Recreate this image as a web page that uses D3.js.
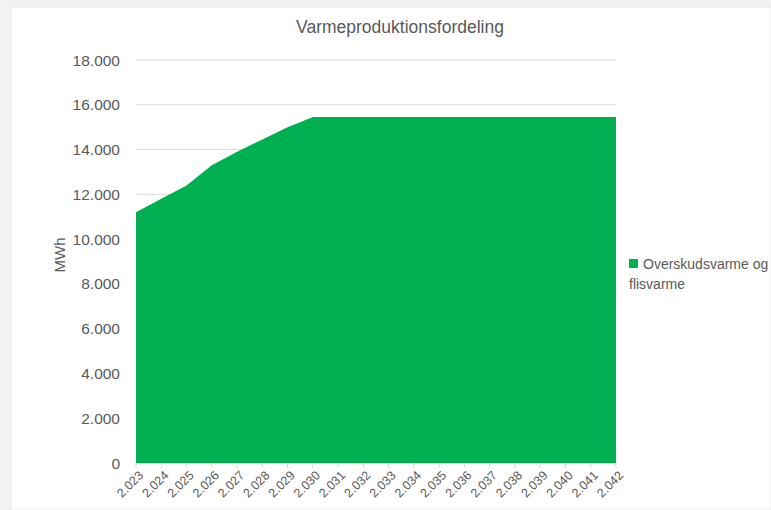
<!DOCTYPE html>
<html><head><meta charset="utf-8">
<script src="https://cdn.jsdelivr.net/npm/d3@7"></script>
<style>body{margin:0;background:#f3f2f1;}svg{display:block;}text{font-family:"Liberation Sans",Arial,sans-serif;fill:#595959;}</style>
</head><body>
<svg id="c" width="771" height="510"></svg>
<script>
const years = ["2.023","2.024","2.025","2.026","2.027","2.028","2.029","2.030","2.031","2.032","2.033","2.034","2.035","2.036","2.037","2.038","2.039","2.040","2.041","2.042"];
const values = [11200,11800,12400,13300,13900,14450,15000,15450,15450,15450,15450,15450,15450,15450,15450,15450,15450,15450,15450,15450];
const yTicks = [0,2000,4000,6000,8000,10000,12000,14000,16000,18000];
const seriesName = ["Overskudsvarme og","flisvarme"];
const title = "Varmeproduktionsfordeling";
const yTitle = "MWh";

const svg = d3.select("#c");
svg.append("rect").attr("x",11).attr("y",7).attr("width",760).attr("height",503).attr("fill","#fff").attr("stroke","#e6e6e6");

const x = d3.scalePoint().domain(years).range([136,616]);
const y = d3.scaleLinear().domain([0,18000]).range([463,60]);
const fmt = v => d3.format(",")(v).replace(/,/g,".");

// gridlines
svg.append("g").selectAll("line").data(yTicks.filter(d=>d>0)).join("line")
  .attr("x1",136).attr("x2",616).attr("y1",d=>y(d)).attr("y2",d=>y(d))
  .attr("stroke","#d9d9d9").attr("stroke-width",1);

// area
svg.append("path").datum(values)
  .attr("d", d3.area().x((d,i)=>x(years[i])).y0(y(0)).y1(d=>y(d)))
  .attr("fill","#00b050");

// y axis labels
svg.append("g").selectAll("text").data(yTicks).join("text")
  .attr("x",120).attr("y",d=>y(d)).attr("dy","0.36em").attr("text-anchor","end")
  .style("font-size","15.5px").text(fmt);

// x axis
svg.append("line").attr("x1",136).attr("x2",616).attr("y1",463.5).attr("y2",463.5).attr("stroke","#d9d9d9");
svg.append("g").selectAll("line").data(years).join("line")
  .attr("x1",d=>x(d)).attr("x2",d=>x(d)).attr("y1",463).attr("y2",468).attr("stroke","#d9d9d9");
svg.append("g").selectAll("text").data(years).join("text")
  .attr("transform",d=>`translate(${x(d)+5},${473}) rotate(-45)`)
  .attr("text-anchor","end").attr("dy","0.35em").style("font-size","12.5px").text(d=>d);

// title
svg.append("text").attr("x",400).attr("y",27).attr("text-anchor","middle").attr("dy","0.35em")
  .style("font-size","17.5px").text(title);

// y title
svg.append("text").attr("transform","translate(60,255) rotate(-90)").attr("text-anchor","middle").attr("dy","0.35em")
  .style("font-size","15px").text(yTitle);

// legend
svg.append("rect").attr("x",629).attr("y",259).attr("width",9).attr("height",9).attr("fill","#00b050");
svg.append("g").selectAll("text").data(seriesName).join("text")
  .attr("x",(d,i)=>i===0?643:629).attr("y",(d,i)=>264+i*20).attr("dy","0.35em")
  .style("font-size","14px").text(d=>d);
</script>
</body></html>
